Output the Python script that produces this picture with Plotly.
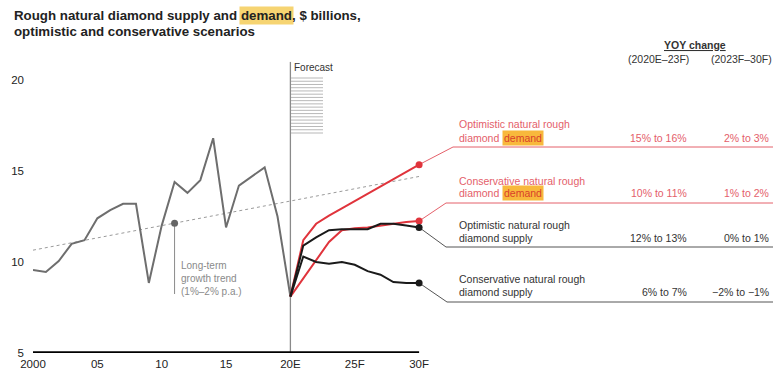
import plotly.graph_objects as go

# ---- data ($ billions) ----
hist_years = list(range(2000, 2021))
hist_values = [9.56, 9.45, 10.05, 11.0, 11.2, 12.4, 12.85, 13.2, 13.2, 8.85, 12.0,
               14.4, 13.8, 14.5, 16.8, 11.9, 14.2, 14.7, 15.2, 12.5, 8.1]

fc_years = list(range(2020, 2031))
opt_demand = [8.1, 11.2, 12.1, 12.55, 12.95, 13.35, 13.75, 14.15, 14.55, 14.95, 15.35]
cons_demand = [8.1, 9.1, 10.1, 11.1, 11.75, 11.85, 11.9, 12.0, 12.1, 12.2, 12.25]
opt_supply = [8.1, 10.9, 11.35, 11.75, 11.8, 11.8, 11.8, 12.1, 12.1, 12.0, 11.9]
cons_supply = [8.1, 10.3, 10.0, 9.9, 10.0, 9.85, 9.5, 9.3, 8.9, 8.85, 8.85]

trend_years = [2000, 2030]
trend_values = [10.65, 14.7]
trend_marker_year = 2011

x_tickvals = [2000, 2005, 2010, 2015, 2020, 2025, 2030]
x_ticktext = ["2000", "05", "10", "15", "20E", "25F", "30F"]
y_tickvals = [5, 10, 15, 20]

series_labels = [
    ("Optimistic natural rough", "diamond ", "demand", "15% to 16%", "2% to 3%"),
    ("Conservative natural rough", "diamond ", "demand", "10% to 11%", "1% to 2%"),
    ("Optimistic natural rough", "diamond supply", None, "12% to 13%", "0% to 1%"),
    ("Conservative natural rough", "diamond supply", None, "6% to 7%", "\u22122% to \u22121%"),
]

# ---- page geometry ----
W, H = 773, 369
X0_PX, PX_PER_YEAR = 33, 12.87
Y5_PX, PX_PER_UNIT = 353, 18.2
x_max = 2000 + (W - X0_PX) / PX_PER_YEAR
y_max = 21


def dx(px):
    return 2000 + (px - X0_PX) / PX_PER_YEAR


def dy(py):
    return 5 + (Y5_PX - py) / PX_PER_UNIT


def pp(px, py):
    return px / W, 1 - py / H


RED = "#e0343c"
RED_LIGHT = "#e4606a"
BLACK = "#1a1a1a"
GREY = "#6e6e6e"
FONT = "Arial, Liberation Sans, sans-serif"

fig = go.Figure()

# trend line and its marker
trend_slope = (trend_values[1] - trend_values[0]) / (trend_years[1] - trend_years[0])
trend_at_marker = trend_values[0] + trend_slope * (trend_marker_year - trend_years[0])
fig.add_trace(go.Scatter(x=trend_years, y=trend_values, mode="lines",
                         line=dict(color="#9a9a9a", width=1, dash="dot"),
                         hoverinfo="skip"))
fig.add_trace(go.Scatter(x=[trend_marker_year, trend_marker_year],
                         y=[trend_at_marker, dy(294)], mode="lines",
                         line=dict(color="#8a8a8a", width=1), hoverinfo="skip"))
fig.add_trace(go.Scatter(x=[trend_marker_year], y=[trend_at_marker], mode="markers",
                         marker=dict(color="#666666", size=7)))

# forecast divider and hatch
fig.add_trace(go.Scatter(x=[2020, 2020], y=[5, y_max], mode="lines",
                         line=dict(color="#8a8a8a", width=1.3), hoverinfo="skip"))
hatch_top, hatch_bottom, n_hatch = 78, 133, 18
for i in range(n_hatch):
    py = hatch_top + i * (hatch_bottom - hatch_top) / (n_hatch - 1)
    fig.add_shape(type="line", xref="x", yref="y", x0=dx(291), x1=dx(323),
                  y0=dy(py), y1=dy(py), line=dict(color="#9a9a9a", width=0.7))

# historical series
fig.add_trace(go.Scatter(x=hist_years, y=hist_values, mode="lines",
                         line=dict(color=GREY, width=2)))

# forecast series with end markers and leader lines to their labels
forecasts = [
    (opt_demand, RED, RED_LIGHT, 147, 453),
    (cons_demand, RED, RED_LIGHT, 203, 446),
    (opt_supply, BLACK, "#555555", 247, 446),
    (cons_supply, BLACK, "#555555", 302, 447),
]
for values, color, lead_color, row_py, bend_px in forecasts:
    fig.add_trace(go.Scatter(x=[fc_years[-1], dx(bend_px), dx(W)],
                             y=[values[-1], dy(row_py), dy(row_py)], mode="lines",
                             line=dict(color=lead_color, width=1), cliponaxis=False,
                             hoverinfo="skip"))
for values, color, lead_color, row_py, bend_px in forecasts:
    fig.add_trace(go.Scatter(x=fc_years, y=values, mode="lines",
                             line=dict(color=color, width=2)))
    fig.add_trace(go.Scatter(x=[fc_years[-1]], y=[values[-1]], mode="markers",
                             marker=dict(color=color, size=7), cliponaxis=False))

# baseline
fig.add_trace(go.Scatter(x=[2000, 2030], y=[5, 5], mode="lines",
                         line=dict(color="black", width=3.5), cliponaxis=False,
                         hoverinfo="skip"))

ann = []


def text(px, py, s, size=10.5, color="#333333", xanchor="left", bg=None, bold=False):
    x, y = pp(px, py)
    ann.append(dict(x=x, y=y, xref="paper", yref="paper", text=f"<b>{s}</b>" if bold else s,
                    showarrow=False, xanchor=xanchor, yanchor="middle",
                    font=dict(family=FONT, size=size, color=color),
                    bgcolor=bg if bg else "rgba(0,0,0,0)", borderpad=1))


# title
text(12, 15, "Rough natural diamond supply and", size=13.3, color="#222222", bold=True)
text(239, 15, "demand", size=13.3, color="#222222", bg="#f6d472", bold=True)
text(290, 15, ", $ billions,", size=13.3, color="#222222", bold=True)
text(12, 31, "optimistic and conservative scenarios", size=13.3, color="#222222", bold=True)

# column headers
text(695, 45, "<u>YOY change</u>", color="#333333", xanchor="center", bold=True)
text(658, 59, "(2020E\u201323F)", xanchor="center")
text(741, 59, "(2023F\u201330F)", xanchor="center")

# series labels
row_lines = [(124, 138), (181, 193), (225, 238), (279, 292)]
for (l1, l2, hl, v1, v2), (py1, py2), (_, color, _, _, _) in zip(series_labels, row_lines, forecasts):
    tcolor = RED_LIGHT if color == RED else "#333333"
    text(457, py1, l1, color=tcolor)
    text(457, py2, l2, color=tcolor)
    if hl:
        text(502, py2, hl, color="#d8402a", bg="#f8b83c")
    text(689, py2, v1, color=tcolor, xanchor="right")
    text(771, py2, v2, color=tcolor, xanchor="right")

# annotations in chart area
text(292, 67, "Forecast", size=10, color="#333333")
x, y = pp(179, 258)
ann.append(dict(x=x, y=y, xref="paper", yref="paper",
                text="Long-term<br>growth trend<br>(1%\u20132% p.a.)", showarrow=False,
                xanchor="left", yanchor="top", align="left",
                font=dict(family=FONT, size=10, color="#8a8a8a")))

fig.update_layout(
    width=W, height=H, margin=dict(l=0, r=0, t=0, b=0, autoexpand=False),
    paper_bgcolor="white", plot_bgcolor="white", showlegend=False,
    annotations=ann,
    xaxis=dict(domain=[X0_PX / W, 1], range=[2000, x_max], tickvals=x_tickvals,
               ticktext=x_ticktext, showgrid=False, zeroline=False, showline=False,
               ticks="", ticklabelstandoff=2, automargin=False,
               tickfont=dict(family=FONT, size=11.5, color="#222222")),
    yaxis=dict(domain=[1 - Y5_PX / H, 1 - (Y5_PX - (y_max - 5) * PX_PER_UNIT) / H],
               range=[5, y_max], tickvals=y_tickvals, showgrid=False, zeroline=False,
               showline=False, ticks="", ticklabelstandoff=8, automargin=False,
               tickfont=dict(family=FONT, size=11.5, color="#222222")),
)

fig.write_html("out.html")
